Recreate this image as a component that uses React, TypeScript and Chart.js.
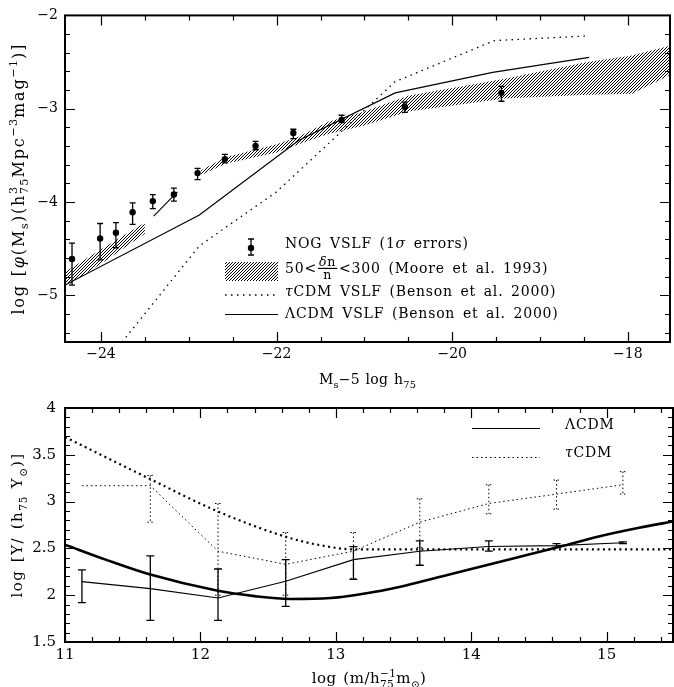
import React, { useEffect, useRef } from 'react';
import { Chart, registerables } from 'chart.js';

Chart.register(...registerables);

const SERIF = '"DejaVu Serif", "Liberation Serif", serif';

// ---------------- Upper panel: VSLF ----------------
const magTicks = [-24, -22, -20, -18];
const phiTicks = [-5, -4, -3, -2];

const nogMag = [-24.33, -24.01, -23.83, -23.64, -23.41, -23.17, -22.9, -22.59, -22.24, -21.81, -21.26, -20.54, -19.44];
const nogPhi = [-4.61, -4.39, -4.33, -4.11, -3.99, -3.92, -3.69, -3.54, -3.4, -3.26, -3.12, -2.98, -2.83];
const nogHi = [-4.44, -4.23, -4.22, -4.01, -3.92, -3.85, -3.64, -3.49, -3.35, -3.22, -3.07, -2.93, -2.76];
const nogLo = [-4.89, -4.62, -4.49, -4.24, -4.07, -3.99, -3.76, -3.58, -3.44, -3.32, -3.15, -3.04, -2.92];

const mooreBrightX = [-24.41, -23.95, -23.5];
const mooreBrightHi = [-4.75, -4.48, -4.22];
const mooreBrightLo = [-4.91, -4.63, -4.34];
const mooreMidX = [-23.4, -23.13];
const mooreMidY = [-4.15, -3.89];
const mooreFaintX = [-22.86, -22.58, -22.0, -21.75, -21.41, -21.0, -20.5, -19.4, -18.46, -17.95, -17.5];
const mooreFaintHi = [-3.66, -3.52, -3.38, -3.3, -3.14, -3.03, -2.86, -2.68, -2.5, -2.43, -2.32];
const mooreFaintLo = [-3.71, -3.59, -3.47, -3.38, -3.27, -3.18, -3.03, -2.89, -2.85, -2.84, -2.63];

const tauMag = [-23.76, -22.88, -22.0, -20.65, -19.52, -18.46];
const tauPhi = [-5.5, -4.47, -3.89, -2.71, -2.27, -2.22];
const lamMag = [-24.41, -22.88, -21.75, -20.65, -19.54, -18.44];
const lamPhi = [-4.89, -4.14, -3.34, -2.83, -2.61, -2.45];

// ---------------- Lower panel: mass-to-light ----------------
const massTicks = [11, 12, 13, 14, 15];
const mlTicks = [1.5, 2, 2.5, 3, 3.5, 4];

const lamTheoryM = [11.0, 11.3, 11.63, 12.12, 12.4, 12.66, 12.96, 13.18, 13.38, 13.86, 14.25, 14.66, 14.95, 15.24, 15.5];
const lamTheoryML = [2.54, 2.38, 2.22, 2.05, 1.99, 1.96, 1.97, 2.01, 2.06, 2.23, 2.37, 2.52, 2.63, 2.72, 2.79];
const tauTheoryM = [11.0, 11.63, 12.12, 12.64, 12.9, 13.13, 13.5, 15.5];
const tauTheoryML = [3.69, 3.24, 2.9, 2.62, 2.53, 2.49, 2.49, 2.49];

const simM = [11.125, 11.63, 12.13, 12.63, 13.13, 13.62, 14.13, 14.63, 15.12];
const lamSimML = [2.145, 2.07, 1.97, 2.15, 2.38, 2.47, 2.52, 2.53, 2.56];
const lamSimHi = [2.27, 2.42, 2.28, 2.38, 2.52, 2.58, 2.58, 2.55, 2.57];
const lamSimLo = [1.92, 1.73, 1.73, 1.88, 2.17, 2.32, 2.47, 2.51, 2.55];
const tauSimML = [3.17, 3.17, 2.47, 2.33, 2.47, 2.78, 2.98, 3.08, 3.18];
const tauSimHi = [null, 3.28, 2.98, 2.67, 2.67, 3.03, 3.18, 3.23, 3.32];
const tauSimLo = [null, 2.78, 2.0, 2.0, 2.18, 2.51, 2.87, 2.92, 3.08];

// ---------------- rich text helpers ----------------
type Run = { t?: string; v?: 'sub' | 'sup'; it?: boolean; sub?: string; sup?: string; num?: Run[]; den?: Run[] };

const fontStr = (size: number, it = false) => `${it ? 'italic ' : ''}${size}px ${SERIF}`;

function drawStr(ctx: CanvasRenderingContext2D, s: string, x: number, yb: number, size: number, it: boolean, ls: number, sp: number, draw: boolean) {
  ctx.font = fontStr(size, it);
  let w = 0;
  for (const ch of s) {
    if (ch === ' ') { w += sp * size; continue; }
    if (draw) ctx.fillText(ch, x + w, yb);
    w += ctx.measureText(ch).width + ls;
  }
  return w;
}

function renderRuns(ctx: CanvasRenderingContext2D, runs: Run[], x0: number, yb: number, size: number, ls: number, sp: number, draw: boolean): number {
  let x = x0;
  for (const r of runs) {
    if (r.num && r.den) {
      const fs = size * 0.9;
      const wn = renderRuns(ctx, r.num, 0, 0, fs, ls, sp, false);
      const wd = renderRuns(ctx, r.den, 0, 0, fs, ls, sp, false);
      const W = Math.max(wn, wd) + 4;
      const mid = yb - size * 0.33;
      if (draw) {
        renderRuns(ctx, r.num, x + (W - wn) / 2, mid - size * 0.16, fs, ls, sp, true);
        renderRuns(ctx, r.den, x + (W - wd) / 2, mid + size * 0.72, fs, ls, sp, true);
        ctx.fillRect(x + 1, mid - 0.6, W - 2, 1.2);
      }
      x += W + ls;
      continue;
    }
    if (r.sub !== undefined || r.sup !== undefined) {
      const fs = size * 0.7;
      let w1 = 0, w2 = 0;
      if (r.sub) w1 = drawStr(ctx, r.sub, x, yb + size * 0.28, fs, false, ls * 0.6, sp, draw);
      if (r.sup) w2 = drawStr(ctx, r.sup, x, yb - size * 0.45, fs, false, ls * 0.6, sp, draw);
      x += Math.max(w1, w2);
      continue;
    }
    const fs = r.v ? size * 0.7 : size;
    const dy = r.v === 'sub' ? size * 0.28 : r.v === 'sup' ? -size * 0.45 : 0;
    x += drawStr(ctx, r.t || '', x, yb + dy, fs, !!r.it, r.v ? ls * 0.6 : ls, sp, draw);
  }
  return x - x0;
}

function textAt(ctx: CanvasRenderingContext2D, runs: Run[], x: number, cy: number, size: number, ls: number, sp: number, align: 'left' | 'center', rotate = false) {
  ctx.save();
  ctx.fillStyle = '#000';
  ctx.textBaseline = 'alphabetic';
  ctx.textAlign = 'left';
  const w = renderRuns(ctx, runs, 0, 0, size, ls, sp, false);
  if (rotate) {
    ctx.translate(x, cy);
    ctx.rotate(-Math.PI / 2);
    renderRuns(ctx, runs, -w / 2, size * 0.36, size, ls, sp, true);
  } else {
    const x0 = align === 'center' ? x - w / 2 : x;
    renderRuns(ctx, runs, x0, cy + size * 0.36, size, ls, sp, true);
  }
  ctx.restore();
}

function drawFrame(chart: any, xMaj: number, xMin: number, yMaj: number, yMin: number) {
  const { ctx, chartArea: a } = chart;
  const xs = chart.scales.x, ys = chart.scales.y;
  const isMaj = (v: number, m: number) => Math.abs(v / m - Math.round(v / m)) < 1e-6;
  ctx.save();
  ctx.strokeStyle = '#000';
  ctx.lineWidth = 1.2;
  ctx.beginPath();
  for (let i = Math.ceil(xs.min / xMin - 1e-9); i * xMin <= xs.max + 1e-9; i++) {
    const v = i * xMin;
    const px = Math.round(xs.getPixelForValue(v)) + 0.5;
    const L = isMaj(v, xMaj) ? 10 : 5;
    ctx.moveTo(px, a.bottom); ctx.lineTo(px, a.bottom - L);
    ctx.moveTo(px, a.top); ctx.lineTo(px, a.top + L);
  }
  for (let i = Math.ceil(ys.min / yMin - 1e-9); i * yMin <= ys.max + 1e-9; i++) {
    const v = i * yMin;
    const py = Math.round(ys.getPixelForValue(v)) + 0.5;
    const L = isMaj(v, yMaj) ? 10 : 5;
    ctx.moveTo(a.left, py); ctx.lineTo(a.left + L, py);
    ctx.moveTo(a.right, py); ctx.lineTo(a.right - L, py);
  }
  ctx.stroke();
  ctx.lineWidth = 2;
  ctx.strokeRect(a.left, a.top, a.right - a.left, a.bottom - a.top);
  ctx.restore();
}

function errBar(ctx: CanvasRenderingContext2D, px: number, y1: number, y2: number, cap: number) {
  ctx.moveTo(px, y1); ctx.lineTo(px, y2);
  ctx.moveTo(px - cap, y1); ctx.lineTo(px + cap, y1);
  ctx.moveTo(px - cap, y2); ctx.lineTo(px + cap, y2);
}

const fmt = (v: number) => (v < 0 ? '\u2212' + String(Math.abs(v)) : String(v));
const pts = (xs: number[], ys: (number | null)[]) => xs.map((x, i) => ({ x, y: ys[i] }));

const TRANSPARENT = 'rgba(0,0,0,0)';

export default function App() {
  const topRef = useRef<HTMLCanvasElement>(null);
  const botRef = useRef<HTMLCanvasElement>(null);

  useEffect(() => {
    const tc = topRef.current!, bc = botRef.current!;
    const tctx = tc.getContext('2d')!;
    const tile = document.createElement('canvas');
    tile.width = 3; tile.height = 3;
    const g = tile.getContext('2d')!;
    const img = g.createImageData(3, 3);
    for (let yy = 0; yy < 3; yy++) for (let xx = 0; xx < 3; xx++) {
      const k = (yy * 3 + xx) * 4;
      img.data[k] = 0; img.data[k + 1] = 0; img.data[k + 2] = 0;
      img.data[k + 3] = (xx + yy) % 3 === 2 ? 255 : 0;
    }
    g.putImageData(img, 0, 0);
    const hatch: any = tctx.createPattern(tile, 'repeat') || '#555';

    const tickFont = { family: SERIF, size: 14 };

    const topDecor = {
      id: 'topDecor',
      afterDatasetsDraw(chart: any) {
        const { ctx } = chart;
        const xs = chart.scales.x, ys = chart.scales.y;
        ctx.save();
        ctx.strokeStyle = '#000';
        ctx.lineWidth = 1.3;
        ctx.beginPath();
        nogMag.forEach((m, i) => {
          errBar(ctx, xs.getPixelForValue(m), ys.getPixelForValue(nogHi[i]), ys.getPixelForValue(nogLo[i]), 3);
        });
        ctx.stroke();
        ctx.restore();
      },
      afterDraw(chart: any) {
        const { ctx, chartArea: a } = chart;
        drawFrame(chart, 2, 0.5, 1, 0.2);
        textAt(ctx, [{ t: 'M' }, { t: 's', v: 'sub' }, { t: '\u22125 log h' }, { t: '75', v: 'sub' }], (a.left + a.right) / 2, 379, 14, 0.3, 0.4, 'center');
        textAt(ctx, [{ t: 'log [' }, { t: '\u03c6', it: true }, { t: '(M' }, { t: 's', v: 'sub' }, { t: ')(h' }, { sub: '75', sup: '3' }, { t: 'Mpc' }, { t: '\u22123', v: 'sup' }, { t: 'mag' }, { t: '\u22121', v: 'sup' }, { t: ')]' }], 18, (a.top + a.bottom) / 2, 16, 1.8, 0.5, 'center', true);
        ctx.save();
        ctx.strokeStyle = '#000';
        ctx.fillStyle = '#000';
        ctx.lineWidth = 1.3;
        ctx.beginPath();
        errBar(ctx, 251, 239, 255, 3);
        ctx.stroke();
        ctx.beginPath(); ctx.arc(251, 248, 3.2, 0, Math.PI * 2); ctx.fill();
        ctx.fillStyle = hatch;
        ctx.fillRect(225, 262, 53, 19);
        ctx.lineWidth = 1.3;
        ctx.setLineDash([1.5, 4.5]);
        ctx.beginPath(); ctx.moveTo(225, 295); ctx.lineTo(278, 295); ctx.stroke();
        ctx.setLineDash([]);
        ctx.lineWidth = 1.2;
        ctx.beginPath(); ctx.moveTo(225, 314.5); ctx.lineTo(278, 314.5); ctx.stroke();
        ctx.restore();
        textAt(ctx, [{ t: 'NOG VSLF (1' }, { t: '\u03c3', it: true }, { t: ' errors)' }], 285, 243, 14, 0.8, 0.55, 'left');
        textAt(ctx, [{ t: '50<' }, { num: [{ t: '\u03b4', it: true }, { t: 'n' }], den: [{ t: 'n' }] }, { t: '<300 (Moore et al. 1993)' }], 285, 268, 14, 0.8, 0.55, 'left');
        textAt(ctx, [{ t: '\u03c4', it: true }, { t: 'CDM VSLF (Benson et al. 2000)' }], 285, 291, 14, 0.8, 0.55, 'left');
        textAt(ctx, [{ t: '\u039bCDM VSLF (Benson et al. 2000)' }], 285, 313, 14, 0.8, 0.55, 'left');
      },
    };

    const top = new Chart(tc, {
      type: 'line',
      data: {
        datasets: [
          { data: pts(mooreBrightX, mooreBrightHi), borderColor: TRANSPARENT, borderWidth: 0, pointRadius: 0, fill: '+1', backgroundColor: hatch },
          { data: pts(mooreBrightX, mooreBrightLo), borderColor: TRANSPARENT, borderWidth: 0, pointRadius: 0, fill: false },
          { data: pts(mooreFaintX, mooreFaintHi), borderColor: TRANSPARENT, borderWidth: 0, pointRadius: 0, fill: '+1', backgroundColor: hatch },
          { data: pts(mooreFaintX, mooreFaintLo), borderColor: TRANSPARENT, borderWidth: 0, pointRadius: 0, fill: false },
          { data: pts(mooreMidX, mooreMidY), borderColor: '#000', borderWidth: 1.1, pointRadius: 0, fill: false },
          { data: pts(tauMag, tauPhi), borderColor: '#000', borderWidth: 1.3, borderDash: [1.5, 4.5], pointRadius: 0, fill: false },
          { data: pts(lamMag, lamPhi), borderColor: '#000', borderWidth: 1.2, pointRadius: 0, fill: false },
          { data: pts(nogMag, nogPhi), showLine: false, pointRadius: 3.2, pointBackgroundColor: '#000', pointBorderColor: '#000', pointBorderWidth: 0, fill: false },
        ],
      },
      options: {
        responsive: false,
        animation: false,
        events: [],
        layout: { padding: { top: 10, right: 1, left: 0, bottom: 0 } },
        plugins: { legend: { display: false }, tooltip: { enabled: false } },
        scales: {
          x: {
            type: 'linear', min: -24.41, max: -17.52,
            grid: { display: false, drawTicks: false }, border: { display: false },
            ticks: { font: tickFont, color: '#000', padding: 4, maxRotation: 0, callback: (v: any) => fmt(Number(v)) },
            afterBuildTicks: (s: any) => { s.ticks = magTicks.map((v) => ({ value: v })); },
            afterFit: (s: any) => { s.height = 48; },
          },
          y: {
            type: 'linear', min: -5.5, max: -2,
            grid: { display: false, drawTicks: false }, border: { display: false },
            ticks: { font: tickFont, color: '#000', padding: 7, callback: (v: any) => fmt(Number(v)) },
            afterBuildTicks: (s: any) => { s.ticks = phiTicks.map((v) => ({ value: v })); },
            afterFit: (s: any) => { s.width = 65; },
          },
        },
      } as any,
      plugins: [topDecor],
    });

    const botDecor = {
      id: 'botDecor',
      afterDatasetsDraw(chart: any) {
        const { ctx } = chart;
        const xs = chart.scales.x, ys = chart.scales.y;
        ctx.save();
        ctx.strokeStyle = '#000';
        ctx.lineWidth = 1;
        ctx.setLineDash([1.5, 2.5]);
        ctx.beginPath();
        simM.forEach((m, i) => {
          const hi = tauSimHi[i], lo = tauSimLo[i];
          if (hi === null || lo === null) return;
          errBar(ctx, xs.getPixelForValue(m), ys.getPixelForValue(hi), ys.getPixelForValue(lo), 3);
        });
        ctx.stroke();
        ctx.setLineDash([]);
        ctx.lineWidth = 1.3;
        ctx.beginPath();
        simM.forEach((m, i) => {
          errBar(ctx, xs.getPixelForValue(m), ys.getPixelForValue(lamSimHi[i]), ys.getPixelForValue(lamSimLo[i]), 4);
        });
        ctx.stroke();
        ctx.restore();
      },
      afterDraw(chart: any) {
        const { ctx, chartArea: a } = chart;
        drawFrame(chart, 1, 0.2, 0.5, 0.1);
        textAt(ctx, [{ t: 'log (m/h' }, { sub: '75', sup: '\u22121' }, { t: 'm' }, { t: '\u2299', v: 'sub' }, { t: ')' }], (a.left + a.right) / 2, 288, 15, 0.5, 0.45, 'center');
        textAt(ctx, [{ t: 'log [\u03a5/ (h' }, { t: '75', v: 'sub' }, { t: ' \u03a5' }, { t: '\u2299', v: 'sub' }, { t: ')]' }], 17, (a.top + a.bottom) / 2, 15, 1.5, 0.5, 'center', true);
        ctx.save();
        ctx.strokeStyle = '#000';
        ctx.lineWidth = 1.1;
        ctx.beginPath(); ctx.moveTo(472, 38.5); ctx.lineTo(540, 38.5); ctx.stroke();
        ctx.setLineDash([1.5, 3]);
        ctx.lineWidth = 1;
        ctx.beginPath(); ctx.moveTo(472, 67.5); ctx.lineTo(540, 67.5); ctx.stroke();
        ctx.restore();
        textAt(ctx, [{ t: '\u039bCDM' }], 565, 34, 14, 0.8, 0.55, 'left');
        textAt(ctx, [{ t: '\u03c4', it: true }, { t: 'CDM' }], 565, 62, 14, 0.8, 0.55, 'left');
      },
    };

    const bot = new Chart(bc, {
      type: 'line',
      data: {
        datasets: [
          { data: pts(tauTheoryM, tauTheoryML), borderColor: '#000', borderWidth: 2.2, borderDash: [2, 3.5], cubicInterpolationMode: 'monotone', pointRadius: 0, fill: false },
          { data: pts(lamTheoryM, lamTheoryML), borderColor: '#000', borderWidth: 2.6, cubicInterpolationMode: 'monotone', pointRadius: 0, fill: false },
          { data: pts(simM, tauSimML), borderColor: '#000', borderWidth: 1, borderDash: [1.5, 3], pointRadius: 0, fill: false },
          { data: pts(simM, lamSimML), borderColor: '#000', borderWidth: 1.1, pointRadius: 0, fill: false },
        ],
      },
      options: {
        responsive: false,
        animation: false,
        events: [],
        layout: { padding: { top: 8, right: 1, left: 0, bottom: 0 } },
        plugins: { legend: { display: false }, tooltip: { enabled: false } },
        scales: {
          x: {
            type: 'linear', min: 11, max: 15.49,
            grid: { display: false, drawTicks: false }, border: { display: false },
            ticks: { font: { family: SERIF, size: 15 }, color: '#000', padding: 4, maxRotation: 0, callback: (v: any) => fmt(Number(v)) },
            afterBuildTicks: (s: any) => { s.ticks = massTicks.map((v) => ({ value: v })); },
            afterFit: (s: any) => { s.height = 45; },
          },
          y: {
            type: 'linear', min: 1.5, max: 4,
            grid: { display: false, drawTicks: false }, border: { display: false },
            ticks: { font: { family: SERIF, size: 15 }, color: '#000', padding: 9, callback: (v: any) => fmt(Number(v)) },
            afterBuildTicks: (s: any) => { s.ticks = mlTicks.map((v) => ({ value: v })); },
            afterFit: (s: any) => { s.width = 65; },
          },
        },
      } as any,
      plugins: [botDecor],
    });

    return () => { top.destroy(); bot.destroy(); };
  }, []);

  return (
    <div style={{ position: 'absolute', left: 0, top: 0, width: 674, height: 687, background: '#fff' }}>
      <canvas ref={topRef} width={674} height={390} style={{ position: 'absolute', left: 0, top: 0, display: 'block' }} />
      <canvas ref={botRef} width={674} height={297} style={{ position: 'absolute', left: 0, top: 390, display: 'block' }} />
    </div>
  );
}
